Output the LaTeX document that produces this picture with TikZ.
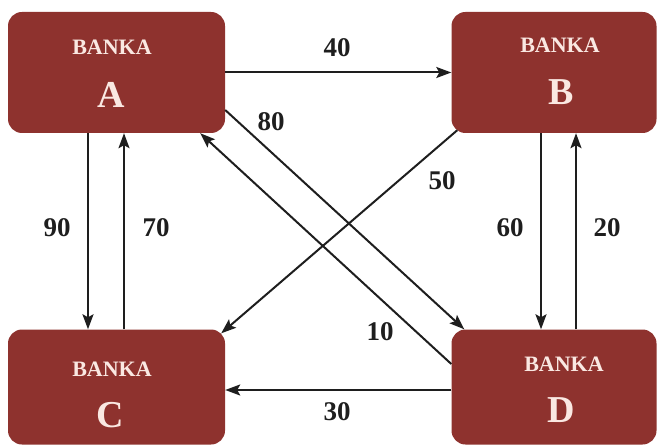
\documentclass[tikz,border=0pt]{standalone}
\usepackage{fontspec}
\setmainfont{Liberation Serif}
\usetikzlibrary{arrows.meta}
\definecolor{bankred}{RGB}{142,50,46}
\definecolor{banktext}{RGB}{250,232,226}
\definecolor{linecol}{RGB}{30,30,30}
\tikzset{
  bank/.style={draw=none, fill=bankred, rounded corners=14pt, inner sep=0pt},
  bankword/.style={text=banktext, font=\fontsize{22}{24}\selectfont\bfseries, inner sep=0pt},
  bankletter/.style={text=banktext, font=\fontsize{38}{40}\selectfont\bfseries, inner sep=0pt},
  flow/.style={draw=linecol, line width=2pt, -{Stealth[length=15pt,width=11pt,inset=3pt]}},
  amount/.style={text=linecol, font=\fontsize{27}{30}\selectfont\bfseries, inner sep=0pt}
}
\begin{document}
\begin{tikzpicture}[x=1pt,y=-1pt]
\useasboundingbox (0,0) rectangle (658,446);
% boxes
\node[bank, minimum width=217pt, minimum height=121pt] (A) at (116.5,72.5) {};
\node[bank, minimum width=205pt, minimum height=121pt] (B) at (554,72.5) {};
\node[bank, minimum width=217pt, minimum height=115pt] (C) at (116.5,387) {};
\node[bank, minimum width=205pt, minimum height=115pt] (D) at (554,387) {};
% texts
\node[bankword] (tA) at (112,47) {BANKA};
\node[bankletter] (lA) at (111,95) {A};
\node[bankword] (tB) at (560,45) {BANKA};
\node[bankletter] (lB) at (561,92) {B};
\node[bankword] (tC) at (112,369) {BANKA};
\node[bankletter] (lC) at (110,415) {C};
\node[bankword] (tD) at (564,364) {BANKA};
\node[bankletter] (lD) at (561,410) {D};
% connectors
\draw[flow] (A.east) -- (B.west);
\draw[flow] ([xshift=-28.5pt]A.south) -- ([xshift=-28.5pt]C.north);
\draw[flow] ([xshift=7.5pt]C.north) -- ([xshift=7.5pt]A.south);
\draw[flow] ([xshift=-13pt]B.south) -- ([xshift=-13pt]D.north);
\draw[flow] ([xshift=22pt]D.north) -- ([xshift=22pt]B.south);
\draw[flow] ([yshift=-3pt]D.west) -- ([yshift=-3pt]C.east);
\draw[flow] ([yshift=-37.5pt]A.east) -- ([xshift=13pt]D.north west);
\draw[flow] ([yshift=23pt]D.west) -- ([xshift=-25pt]A.south east);
\draw[flow] ([xshift=6pt,yshift=3pt]B.south west) -- ([xshift=-4pt,yshift=-4pt]C.north east);
% amounts
\node[amount] (n40) at (337,48) {40};
\node[amount] (n90) at (57,228) {90};
\node[amount] (n70) at (156,228) {70};
\node[amount] (n60) at (510,228) {60};
\node[amount] (n20) at (607,228) {20};
\node[amount] (n30) at (337,412) {30};
\node[amount] (n80) at (271,122) {80};
\node[amount] (n10) at (380,332) {10};
\node[amount] (n50) at (442,181) {50};
\end{tikzpicture}
\end{document}
